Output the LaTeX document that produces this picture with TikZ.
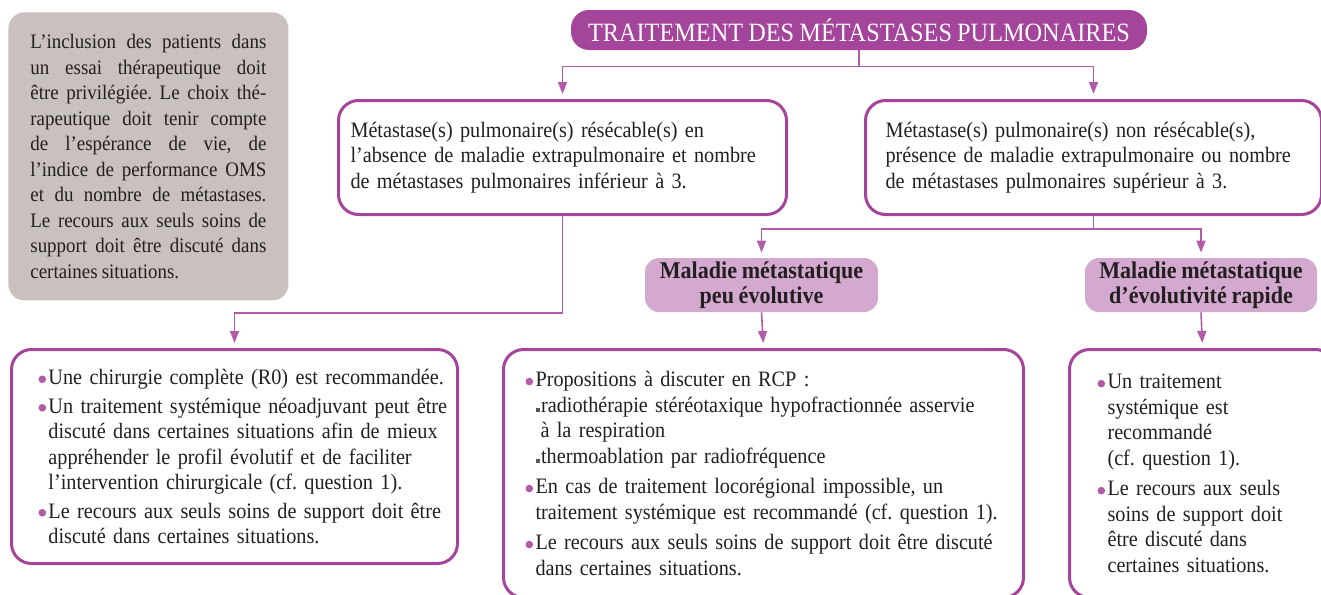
\documentclass[tikz,border=0pt]{standalone}
\usepackage{fontspec}
\setmainfont{Liberation Serif}[FakeStretch=0.92, WordSpace=0.85]
\usetikzlibrary{arrows.meta}
\definecolor{mauve}{HTML}{A4449A}
\definecolor{trait}{HTML}{B25CA8}
\definecolor{rose}{HTML}{D4A9CF}
\definecolor{taupe}{HTML}{C9C1BD}
\definecolor{encre}{HTML}{231F20}
\newcommand{\puce}{\makebox[5pt][l]{\tikz[baseline]\fill[trait] (1.8pt,2.6pt) circle (1.9pt);}}
\newcommand{\suite}{\hspace*{5pt}}
\newcommand{\carre}{\textcolor{encre!75}{\rule{2pt}{2pt}}\hspace{0.8pt}}
\newcommand{\serre}{\rightskip=0pt plus 1fil minus 40pt\relax\hyphenpenalty=10000\relax}
\frenchspacing

\begin{document}
\begin{tikzpicture}[x=0.5pt, y=-0.5pt,
    texte/.style={font=\fontsize{11}{12.75}\selectfont, text=encre, align=left, inner ysep=0pt},
    boite/.style={texte, draw=mauve, line width=1.5pt, rounded corners=10pt, fill=white, anchor=north west},
    etiquette/.style={texte, fill=rose, rounded corners=7pt, minimum height=27pt, inner xsep=0pt, align=center, font=\bfseries\fontsize{12}{12.5}\selectfont},
    fleche/.style={draw=trait, line width=0.8pt, -{Triangle[length=6pt,width=4.5pt]}, shorten >=2.5pt}]
    \useasboundingbox (0,0) rectangle (1321,594);
    \clip (0,0) rectangle (1321,594);

    % encadre gris a gauche
    \node[texte, fill=taupe, rounded corners=8pt, anchor=north west, align=justify,
          font=\fontsize{10.3}{12.75}\selectfont,
          minimum height=144pt, inner xsep=11pt, text width=118pt] (note) at (8,12)
        {\hyphenpenalty=10000 L'inclusion des patients dans\linebreak un essai thérapeutique doit\linebreak
         être privilégiée. Le choix thé-\linebreak rapeutique doit tenir compte\linebreak
         de l'espérance de vie, de\linebreak l'indice de performance OMS\linebreak
         et du nombre de métastases.\linebreak Le recours aux seuls soins de\linebreak
         support doit être discuté dans\linebreak certaines situations.};

    % titre
    \node[fill=mauve, text=white, rounded corners=9pt, minimum width=288pt, minimum height=20pt,
          inner sep=0pt, font=\fontsize{13.2}{14}\selectfont] (titre) at (859,30)
        {TRAITEMENT DES MÉTASTASES PULMONAIRES};

    % deux situations
    \node[boite, minimum height=57pt, inner xsep=6pt, text width=212pt] (res) at (337,99)
        {Métastase(s) pulmonaire(s) résécable(s) en\\
         l'absence de maladie extrapulmonaire et nombre\\
         de métastases pulmonaires inférieur à 3.};
    \node[boite, minimum height=57pt, inner xsep=10pt, text width=208pt] (nonres) at (864,99)
        {Métastase(s) pulmonaire(s) non résécable(s),\\
         présence de maladie extrapulmonaire ou nombre\\
         de métastases pulmonaires supérieur à 3.};

    \node[etiquette, minimum width=116.5pt] (lente) at (761.5,285) {Maladie métastatique\\ peu évolutive};
    \node[etiquette, minimum width=116pt] (rapide) at (1201,285) {Maladie métastatique\\ d'évolutivité rapide};

    % recommandations
    \node[boite, minimum height=107pt, inner xsep=13.5pt, text width=196pt] (chir) at (10,348)
        {\serre\puce Une chirurgie complète (R0) est recommandée.\\[1.5pt]
         \puce Un traitement systémique néoadjuvant peut être\\
         \suite discuté dans certaines situations afin de mieux\\
         \suite appréhender le profil évolutif et de faciliter\\
         \suite l'intervention chirurgicale (cf. question 1).\\[1.5pt]
         \puce Le recours aux seuls soins de support doit être\\
         \suite discuté dans certaines situations.};
    \node[boite, minimum height=124pt, inner xsep=11pt, text width=238pt] (rcp) at (502,348)
        {\serre\puce Propositions à discuter en RCP~:\\
         \suite\carre radiothérapie stéréotaxique hypofractionnée asservie\\
         \suite\hspace*{2.5pt}à la respiration\\
         \suite\carre thermoablation par radiofréquence\\[2.5pt]
         \puce En cas de traitement locorégional impossible, un\\
         \suite traitement systémique est recommandé (cf. question 1).\\[2.5pt]
         \puce Le recours aux seuls soins de support doit être discuté\\
         \suite dans certaines situations.};
    \node[boite, minimum height=124pt, inner xsep=14pt, text width=105pt] (syst) at (1068,348)
        {\serre\puce Un traitement\\
         \suite systémique est\\
         \suite recommandé\\
         \suite (cf. question 1).\\[2.5pt]
         \puce Le recours aux seuls\\
         \suite soins de support doit\\
         \suite être discuté dans\\
         \suite certaines situations.};

    % fleches
    \foreach \cible in {res,nonres}
        \draw[fleche] (titre.south) -- ++(0,16) -| (\cible.north);
    \foreach \cible in {lente,rapide}
        \draw[fleche] (nonres.south) -- ++(0,13) -| (\cible.north);
    \draw[fleche] (res.south) -- ++(0,97) -| (chir.north);
    \draw[fleche] (lente.south) -- (rcp.north);
    \draw[fleche] (rapide.south) -- (syst.north);
\end{tikzpicture}
\end{document}
